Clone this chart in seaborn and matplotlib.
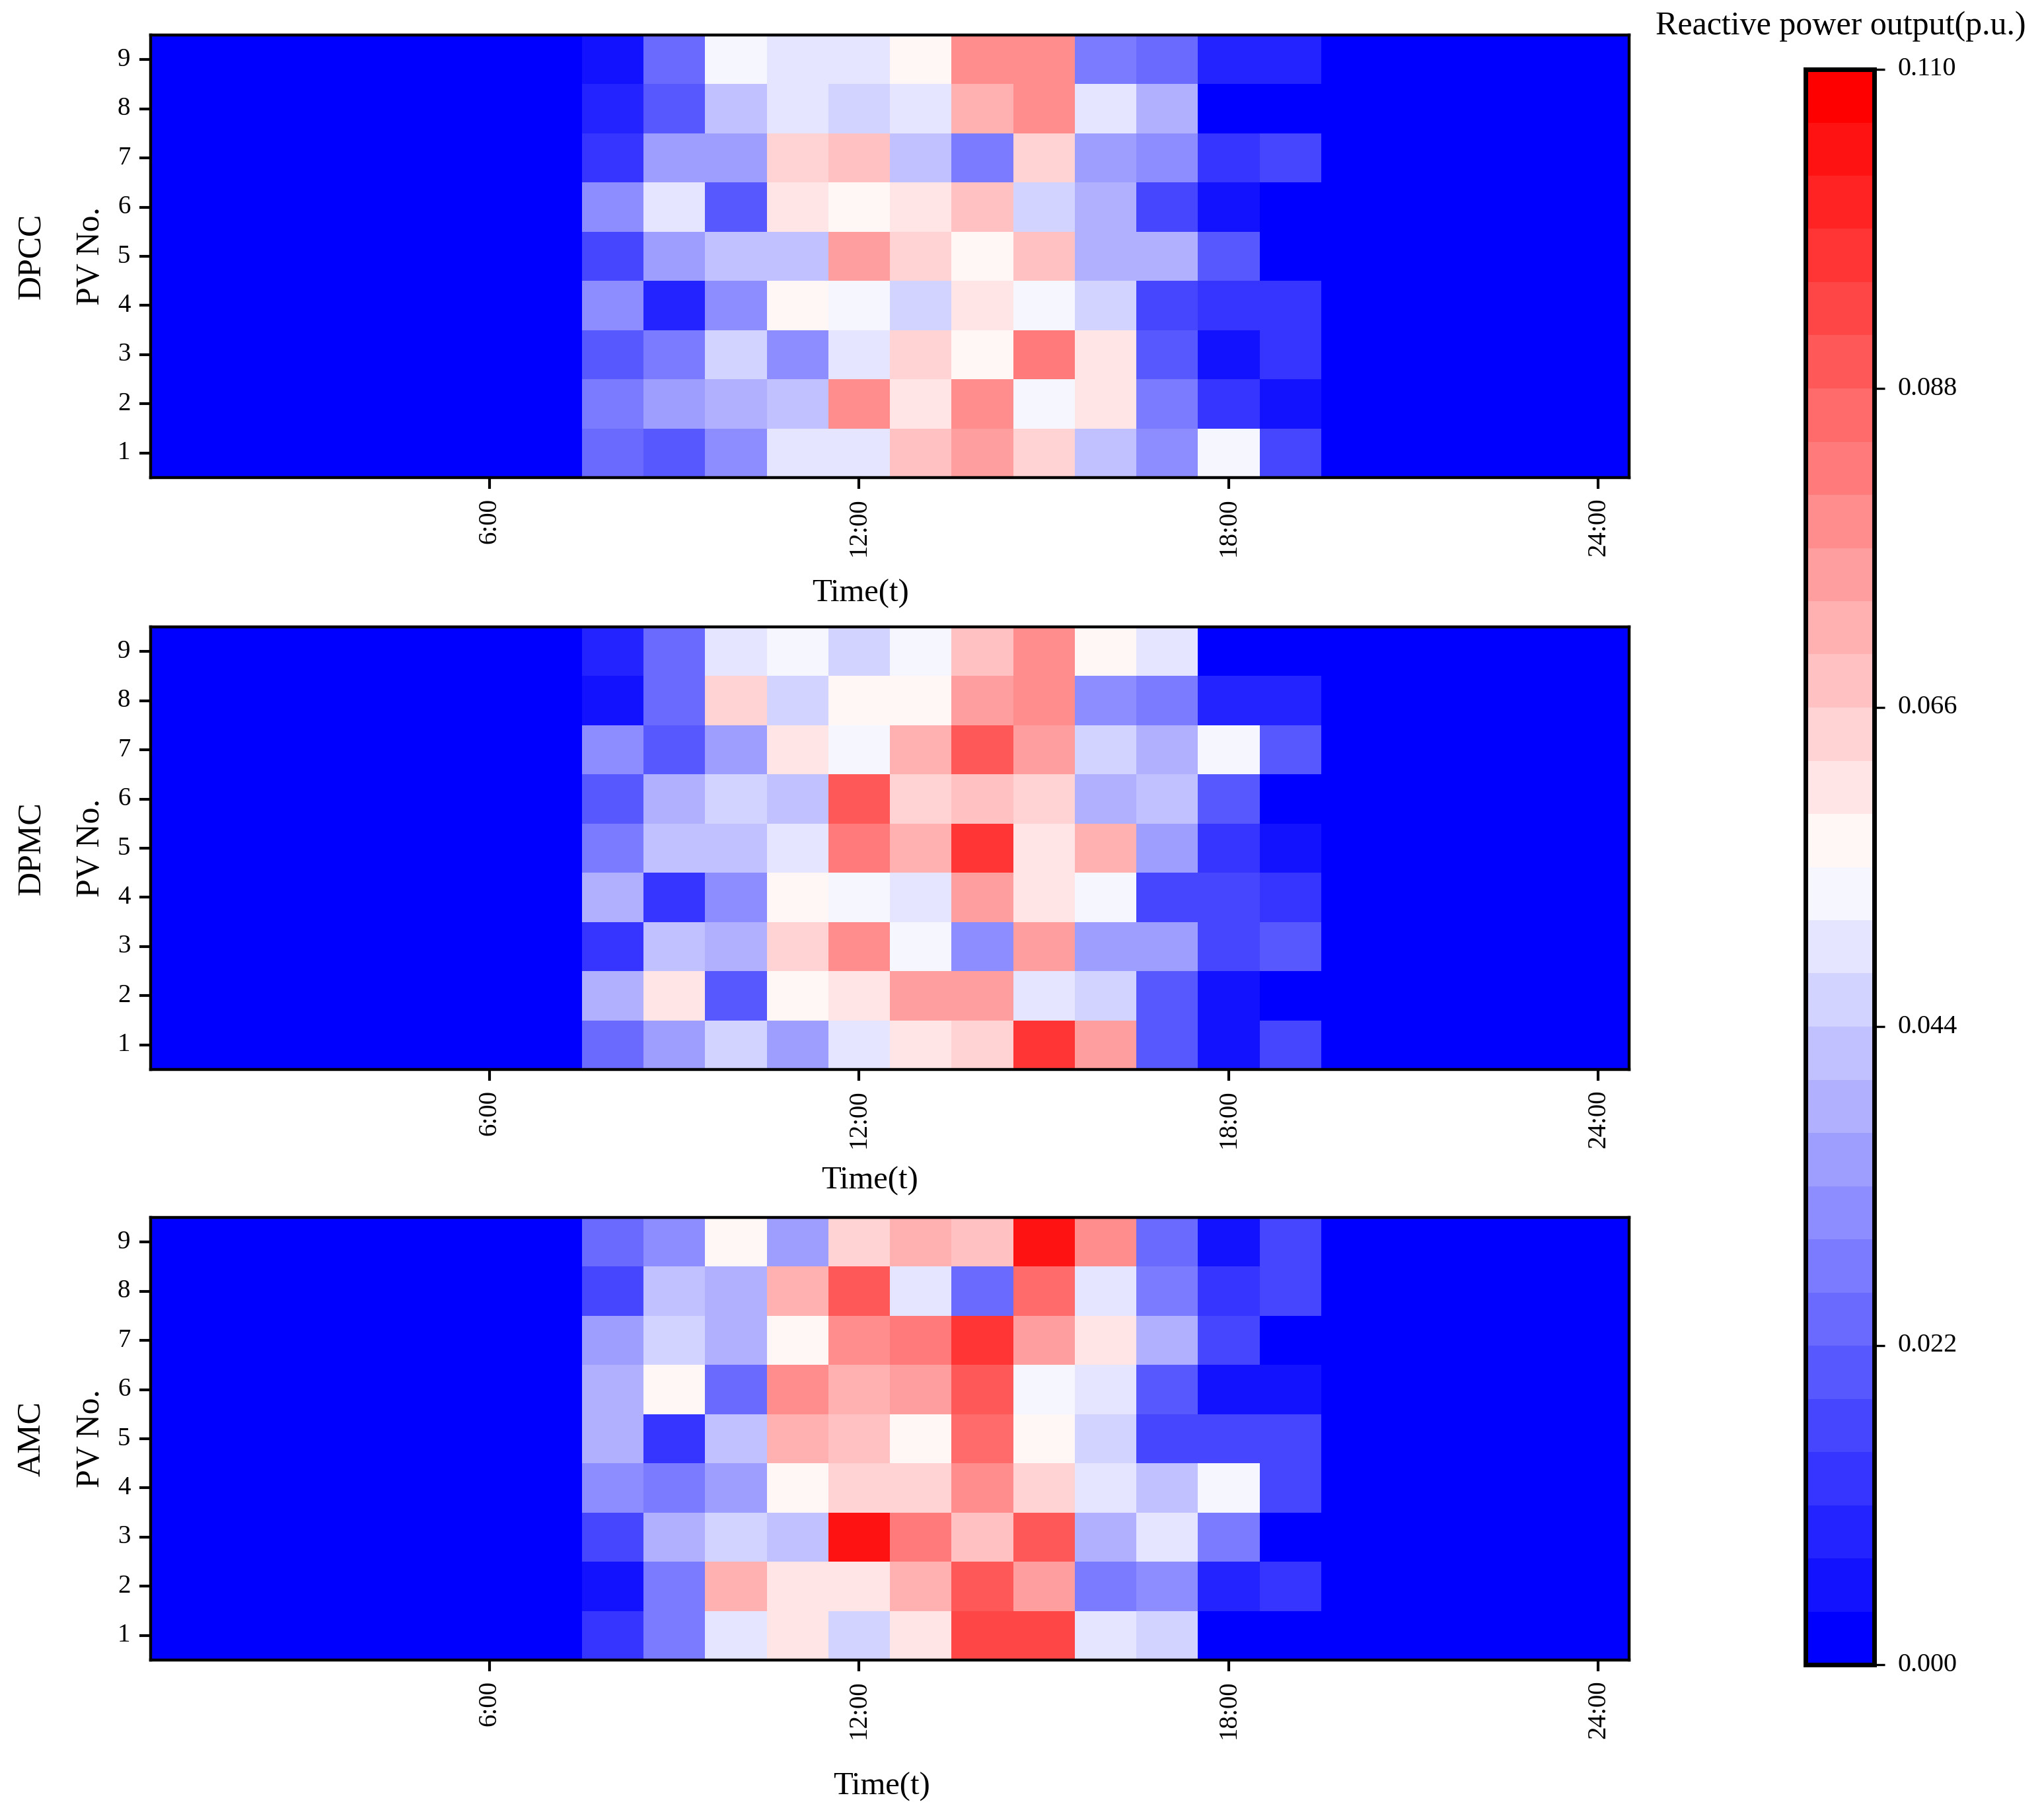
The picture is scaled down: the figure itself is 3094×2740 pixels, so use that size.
import numpy as np
import pandas as pd
import matplotlib
matplotlib.use("Agg")
import matplotlib.pyplot as plt
from matplotlib.colors import ListedColormap
from matplotlib.transforms import blended_transform_factory
import seaborn as sns

# ---------------- data ----------------
hours = list(range(1, 25))                 # 24 hourly columns
active_hours = list(range(8, 20))          # hours with non-zero output
pv_numbers = list(range(1, 10))            # PV 1..9
methods = ["DPCC", "DPMC", "AMC"]
time_ticks = [6, 12, 18, 24]
time_tick_labels = ["6:00", "12:00", "18:00", "24:00"]
cbar_ticks = [0.000, 0.022, 0.044, 0.066, 0.088, 0.110]
cbar_tick_labels = ["0.000", "0.022", "0.044", "0.066", "0.088", "0.110"]

# reactive power output (p.u.) for PV1..PV9 (rows) over hours 8..19 (columns);
# output is 0 at all other hours
dpcc = [
    [.024, .020, .031, .050, .050, .068, .075, .064, .042, .031, .053, .017],  # PV1
    [.028, .035, .039, .042, .079, .061, .079, .053, .061, .028, .013, .006],  # PV2
    [.020, .028, .046, .031, .050, .064, .057, .083, .061, .020, .006, .013],  # PV3
    [.031, .009, .031, .057, .053, .046, .061, .053, .046, .017, .013, .013],  # PV4
    [.017, .035, .042, .042, .075, .064, .057, .068, .039, .039, .020, 0.0],   # PV5
    [.031, .050, .020, .061, .057, .061, .068, .046, .039, .017, .006, 0.0],   # PV6
    [.013, .035, .035, .064, .068, .042, .028, .064, .035, .031, .013, .017],  # PV7
    [.009, .020, .042, .050, .046, .050, .072, .079, .050, .039, 0.0, 0.0],    # PV8
    [.006, .024, .053, .050, .050, .057, .079, .079, .028, .024, .009, .009],  # PV9
]
dpmc = [
    [.024, .035, .046, .035, .050, .061, .064, .097, .075, .020, .006, .017],  # PV1
    [.039, .061, .020, .057, .061, .075, .075, .050, .046, .020, .006, 0.0],   # PV2
    [.013, .042, .039, .064, .079, .053, .031, .075, .035, .035, .017, .020],  # PV3
    [.039, .013, .031, .057, .053, .050, .075, .061, .053, .017, .017, .013],  # PV4
    [.028, .042, .042, .050, .083, .072, .097, .061, .072, .035, .013, .006],  # PV5
    [.020, .039, .046, .042, .090, .064, .068, .064, .039, .042, .020, 0.0],   # PV6
    [.031, .020, .035, .061, .053, .072, .090, .075, .046, .039, .053, .020],  # PV7
    [.006, .024, .064, .046, .057, .057, .075, .079, .031, .028, .009, .009],  # PV8
    [.009, .024, .050, .053, .046, .053, .068, .079, .057, .050, 0.0, 0.0],    # PV9
]
amc = [
    [.013, .028, .050, .061, .046, .061, .094, .094, .050, .046, 0.0, 0.0],    # PV1
    [.006, .028, .072, .061, .061, .072, .090, .075, .028, .031, .009, .013],  # PV2
    [.017, .039, .046, .042, .105, .083, .068, .090, .039, .050, .028, 0.0],   # PV3
    [.031, .028, .035, .057, .064, .064, .079, .064, .050, .042, .053, .017],  # PV4
    [.039, .013, .042, .072, .068, .057, .086, .057, .046, .017, .017, .017],  # PV5
    [.039, .057, .024, .079, .072, .075, .090, .053, .050, .020, .006, .006],  # PV6
    [.035, .046, .039, .057, .079, .083, .097, .075, .061, .039, .017, 0.0],   # PV7
    [.017, .042, .039, .072, .090, .050, .024, .086, .050, .028, .013, .017],  # PV8
    [.024, .031, .057, .035, .064, .072, .068, .105, .079, .024, .006, .017],  # PV9
]
method_values = [dpcc, dpmc, amc]


def to_frame(values):
    df = pd.DataFrame(0.0, index=pv_numbers, columns=hours)
    df.loc[:, active_hours] = np.array(values, dtype=float)
    return df.iloc[::-1]          # PV9 on top


# ---------------- style ----------------
sns.set_theme(style="ticks")
FAMILY = ["Liberation Serif", "DejaVu Serif"]
plt.rcParams["font.family"] = FAMILY
plt.rcParams["axes.unicode_minus"] = False

W, H = 3094, 2740
DPI = 200
fig = plt.figure(figsize=(W / DPI, H / DPI), dpi=DPI)

cmap = ListedColormap(matplotlib.colormaps["bwr"].resampled(30)(np.arange(30)))

ax_left, ax_right = 228, 2466
ax_tops = [53, 949, 1843]
ax_h = 670
xlabel_pos = [(1303, 911), (1317, 1800), (1334, 2717)]

cax_l, cax_r, cax_t, cax_b = 2733, 2837, 105, 2520
cax = fig.add_axes([cax_l / W, 1 - cax_b / H, (cax_r - cax_l) / W, (cax_b - cax_t) / H])
first_ax = None

for i, (name, vals) in enumerate(zip(methods, method_values)):
    top = ax_tops[i]
    ax = fig.add_axes([ax_left / W, 1 - (top + ax_h) / H,
                       (ax_right - ax_left) / W, ax_h / H])
    if i == 0:
        first_ax = ax
    df = to_frame(vals)
    sns.heatmap(df, ax=ax, cmap=cmap, vmin=0.0, vmax=0.11, cbar=False,
                linewidths=0, square=False)
    # ticks
    ax.set_xticks([hours.index(t) + 0.5 for t in time_ticks])
    ax.set_xticklabels(time_tick_labels, rotation=90, fontsize=14)
    ax.set_yticks(np.arange(len(pv_numbers)) + 0.5)
    ax.set_yticklabels([str(p) for p in df.index], rotation=0, fontsize=14)
    ax.tick_params(axis="both", which="major", length=6, width=1.5,
                   color="black", pad=5, labelcolor="black",
                   bottom=True, left=True)
    for s in ax.spines.values():
        s.set_visible(True)
        s.set_linewidth(1.6)
        s.set_color("black")
    # labels
    ax.set_ylabel("PV No.", fontsize=18, color="black", va="center")
    ax.yaxis.set_label_coords((138 - ax_left) / (ax_right - ax_left), 0.5)
    ax.text((48 - ax_left) / (ax_right - ax_left), 0.5, name, transform=ax.transAxes,
            rotation=90, ha="center", va="center", fontsize=18, color="black")
    ax.set_xlabel("Time(t)", fontsize=17.5, color="black")
    lx, ly = xlabel_pos[i]
    ax.xaxis.label.set_va("baseline")
    ax.xaxis.set_label_coords((lx - ax_left) / (ax_right - ax_left),
                              -(ly - (top + ax_h)) / ax_h)

# colorbar
cb = fig.colorbar(first_ax.collections[0], cax=cax, ticks=cbar_ticks)
cb.outline.set_visible(True)
cb.outline.set_linewidth(2.5)
cb.outline.set_edgecolor("black")
cax.set_yticks(cbar_ticks)
cax.tick_params(axis="y", length=5.8, width=1.2, color="black",
                right=True, labelright=False, left=False, labelleft=False)
# colorbar tick labels as text placed at the tick values
trans = blended_transform_factory(cax.transAxes, cax.transData)
label_x = (2872 - cax_l) / (cax_r - cax_l)
for val, lab in zip(cbar_ticks, cbar_tick_labels):
    cax.text(label_x, val, lab, transform=trans, ha="left", va="center",
             fontsize=14.5, color="black", family=FAMILY)

fig.text(2786 / W, 1 - 52 / H, "Reactive power output(p.u.)", ha="center",
         va="baseline", fontsize=18, color="black")

fig.savefig("out.png", dpi=DPI)
